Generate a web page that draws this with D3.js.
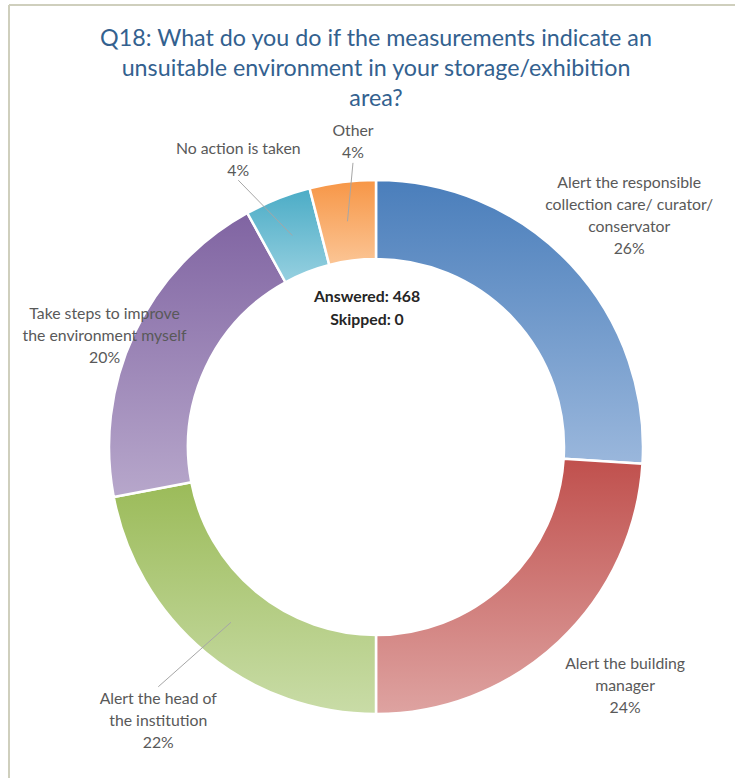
<!DOCTYPE html>
<html>
<head>
<meta charset="utf-8">
<script src="https://cdn.jsdelivr.net/npm/d3@7"></script>
<style>
  html, body { margin: 0; padding: 0; background: #ffffff; }
  svg { display: block; }
</style>
</head>
<body>
<svg id="chart" width="735" height="778"></svg>
<script>
// Survey question and answer categories
const titleLines = [
  "Q18: What do you do if the measurements indicate an",
  "unsuitable environment in your storage/exhibition",
  "area?"
];
const categories = [
  "Alert the responsible collection care/ curator/ conservator",
  "Alert the building manager",
  "Alert the head of the institution",
  "Take steps to improve the environment myself",
  "No action is taken",
  "Other"
];
const labelLines = [
  ["Alert the responsible", "collection care/ curator/", "conservator"],
  ["Alert the building", "manager"],
  ["Alert the head of", "the institution"],
  ["Take steps to improve", "the environment myself"],
  ["No action is taken"],
  ["Other"]
];
// Share of respondents (percent)
const shares = [26, 24, 22, 20, 4, 4];
const answered = 468;
const skipped = 0;

// Slice fills: darker at the top of each slice, lighter at the bottom
const colorTop    = ["#4a7ebb", "#c0504d", "#9bbb59", "#8064a2", "#4bacc6", "#f79646"];
const colorBottom = ["#9ab7dc", "#dea3a1", "#c9dca7", "#b7a7cb", "#96d0e0", "#fbc595"];

// Label placement around the ring: radius and angular nudge (degrees)
const labelLayout = [
  { r: 344, da: 0.6,  leader: false },
  { r: 344, da: -3.2, leader: false },
  { r: 349, da: -1.0, leader: true },
  { r: 294, da: -2.6, leader: false },
  { r: 320, da: -3.9, leader: true },
  { r: 307, da: 2.9,  leader: true }
];

const svg = d3.select("#chart");
const W = 735, H = 778;
const cx = 376, cy = 447;
const outerR = 267, innerR = 188;
const lineH = 22;
const labelFont = "Lato, 'Open Sans', sans-serif";
const labelSize = 15.8;

// frame lines along the top and left edges
svg.append("line").attr("x1", 9).attr("y1", 5).attr("x2", W).attr("y2", 5)
  .attr("stroke", "#cfcfbd").attr("stroke-width", 2);
svg.append("line").attr("x1", 9).attr("y1", 5).attr("x2", 9).attr("y2", H)
  .attr("stroke", "#cfcfbd").attr("stroke-width", 2);

// title, sized so the first line spans the chart width
const title = svg.append("text")
  .attr("x", 376)
  .attr("font-family", labelFont)
  .attr("font-size", 22)
  .attr("fill", "#33618f")
  .attr("text-anchor", "middle");
titleLines.forEach((t, i) => {
  title.append("tspan")
    .attr("x", 376)
    .attr("y", 37 + i * 30)
    .attr("dominant-baseline", "central")
    .text(t);
});
const firstLen = title.select("tspan").node().getComputedTextLength();
title.attr("font-size", 22 * 552 / firstLen);

// gradients
const defs = svg.append("defs");
categories.forEach((c, i) => {
  const g = defs.append("linearGradient")
    .attr("id", "grad" + i)
    .attr("x1", 0).attr("y1", 0).attr("x2", 0).attr("y2", 1);
  g.append("stop").attr("offset", "0%").attr("stop-color", colorTop[i]);
  g.append("stop").attr("offset", "100%").attr("stop-color", colorBottom[i]);
});

const pie = d3.pie().sort(null).value(d => d).startAngle(0).endAngle(2 * Math.PI);
const arcs = pie(shares);
const arc = d3.arc().innerRadius(innerR).outerRadius(outerR);
const midArc = d3.arc().innerRadius((innerR + outerR) / 2).outerRadius((innerR + outerR) / 2);

const ring = svg.append("g").attr("transform", `translate(${cx},${cy})`);
ring.selectAll("path")
  .data(arcs)
  .join("path")
  .attr("d", arc)
  .attr("fill", (d, i) => `url(#grad${i})`)
  .attr("stroke", "#ffffff")
  .attr("stroke-width", 2.5)
  .attr("stroke-linejoin", "round");

// polar helper: angle in radians measured clockwise from 12 o'clock
const polar = (r, a) => [cx + r * Math.sin(a), cy - r * Math.cos(a)];

// leader lines and data labels
arcs.forEach((d, i) => {
  const lay = labelLayout[i];
  const mid = (d.startAngle + d.endAngle) / 2 + lay.da * Math.PI / 180;
  const [lx, ly] = polar(lay.r, mid);
  const lines = labelLines[i].concat([d3.format("d")(d.data) + "%"]);
  const n = lines.length;

  if (lay.leader) {
    const c = midArc.centroid(d);
    const below = ly > cy;
    const edge = below ? ly - (n - 1) / 2 * lineH - 7 - 4 : ly + (n - 1) / 2 * lineH + 7 + 4;
    svg.append("line")
      .attr("x1", cx + c[0]).attr("y1", cy + c[1])
      .attr("x2", lx).attr("y2", edge)
      .attr("stroke", "#a6a6a6").attr("stroke-width", 1);
  }

  const t = svg.append("text")
    .attr("font-family", labelFont)
    .attr("font-size", labelSize)
    .attr("fill", "#595959")
    .attr("text-anchor", "middle");
  lines.forEach((s, k) => {
    t.append("tspan")
      .attr("x", lx)
      .attr("y", ly + (k - (n - 1) / 2) * lineH)
      .attr("dominant-baseline", "central")
      .text(s);
  });
});

// response counts in the middle
const centre = svg.append("text")
  .attr("font-family", labelFont)
  .attr("font-size", labelSize)
  .attr("font-weight", "bold")
  .attr("fill", "#262626")
  .attr("text-anchor", "middle");
[`Answered: ${answered}`, `Skipped: ${skipped}`].forEach((s, k) => {
  centre.append("tspan")
    .attr("x", 367)
    .attr("y", 295 + k * 23)
    .attr("dominant-baseline", "central")
    .text(s);
});
</script>
</body>
</html>
